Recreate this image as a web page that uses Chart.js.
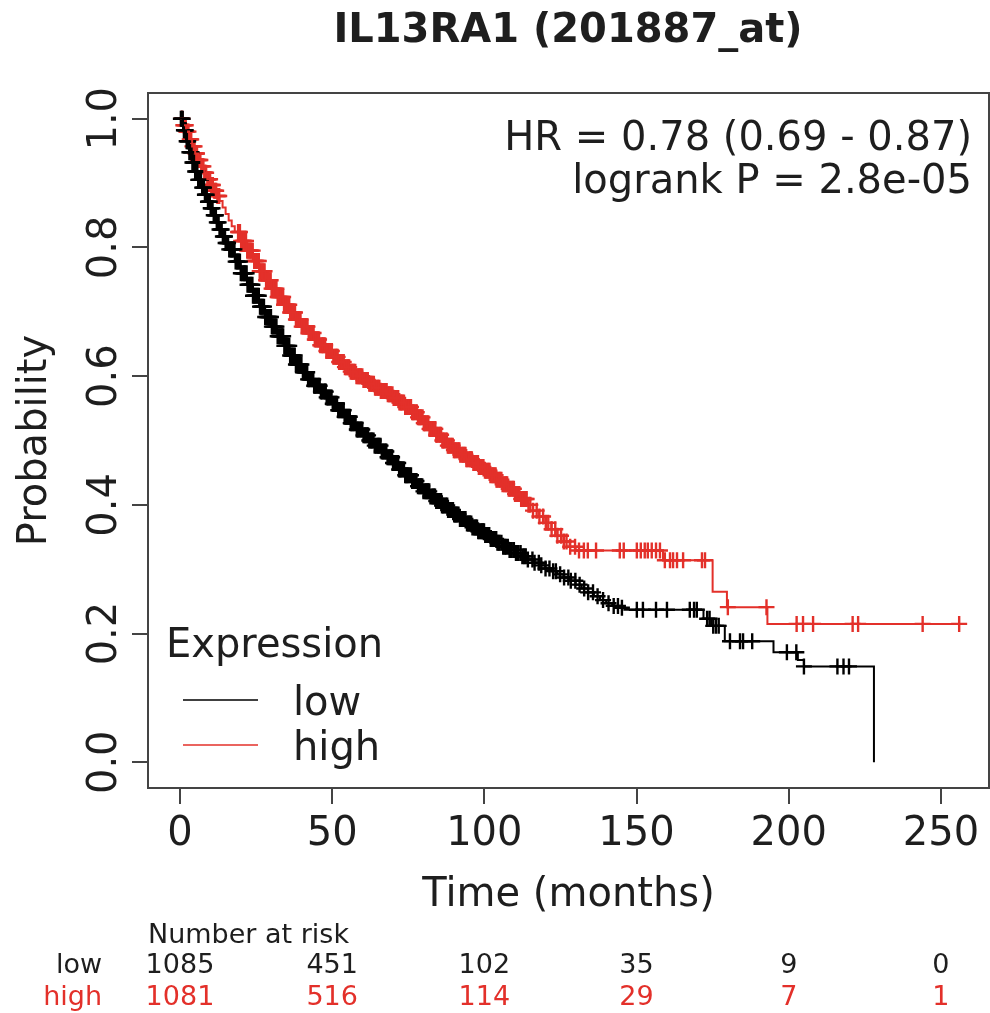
<!DOCTYPE html>
<html>
<head>
<meta charset="utf-8">
<script src="https://cdn.jsdelivr.net/npm/chart.js@4"></script>
<style>
html, body { margin: 0; padding: 0; background: #fff; }
</style>
</head>
<body>
<canvas id="km" width="990" height="1013"></canvas>
<script>
// Kaplan-Meier curve, low expression (time in months, survival probability)
const lowTimes = [0, 1, 2, 3, 4, 5, 6, 7, 8, 9, 10, 11, 12, 13, 14, 15, 16, 18, 20, 22, 24, 26, 28, 30, 32, 34, 36, 38, 40, 42, 44, 46, 48, 50, 52, 54, 56, 58, 60, 62, 64, 66, 68, 70, 72, 74, 76, 78, 80, 82, 84, 86, 88, 90, 92, 94, 96, 98, 100, 102, 104, 106, 108, 110, 112, 114, 116, 118, 120, 122, 124, 126, 128, 130, 132, 134, 136, 138, 140, 142, 144, 146, 172, 174.5, 179, 195, 203, 205, 228];
const lowSurv = [1.000, 0.982, 0.965, 0.948, 0.932, 0.918, 0.905, 0.893, 0.882, 0.871, 0.861, 0.850, 0.839, 0.828, 0.817, 0.807, 0.797, 0.778, 0.760, 0.742, 0.725, 0.708, 0.692, 0.677, 0.662, 0.647, 0.632, 0.618, 0.606, 0.595, 0.585, 0.576, 0.567, 0.557, 0.547, 0.537, 0.527, 0.517, 0.508, 0.500, 0.492, 0.483, 0.474, 0.465, 0.455, 0.446, 0.437, 0.429, 0.421, 0.413, 0.406, 0.399, 0.392, 0.385, 0.378, 0.371, 0.365, 0.359, 0.353, 0.347, 0.341, 0.335, 0.330, 0.325, 0.320, 0.315, 0.310, 0.306, 0.301, 0.297, 0.292, 0.287, 0.282, 0.276, 0.270, 0.264, 0.258, 0.252, 0.247, 0.243, 0.240, 0.237, 0.223, 0.212, 0.188, 0.171, 0.159, 0.149, 0.000];
const lowCensor = [0.3, 0.9, 1.6, 2.2, 2.7, 3.5, 4.1, 4.6, 5.4, 6.0, 6.5, 7.3, 7.9, 8.4, 9.2, 9.8, 10.3, 11.1, 11.8, 12.4, 13.0, 13.7, 14.5, 15.0, 15.8, 16.6, 17.1, 17.9, 18.7, 19.3, 20.0, 20.9, 21.5, 22.2, 23.0, 23.8, 24.3, 25.1, 25.9, 26.6, 27.2, 28.0, 28.9, 29.5, 30.2, 31.0, 31.7, 32.5, 33.3, 33.9, 34.7, 35.6, 36.2, 36.9, 37.7, 38.5, 39.1, 39.9, 40.8, 41.4, 42.1, 42.9, 43.8, 44.4, 45.2, 45.9, 46.7, 47.6, 48.2, 48.9, 49.8, 50.5, 51.2, 52.0, 52.8, 53.5, 54.1, 55.0, 55.8, 56.4, 57.2, 58.1, 58.7, 59.5, 60.3, 61.0, 61.8, 62.6, 63.2, 64.0, 64.9, 65.5, 66.3, 67.1, 67.8, 68.6, 69.4, 70.0, 70.9, 71.7, 72.3, 73.1, 74.0, 74.6, 75.4, 76.3, 76.9, 77.7, 78.6, 79.2, 80.0, 80.9, 81.5, 82.3, 83.2, 83.8, 84.6, 85.5, 86.1, 86.9, 87.8, 88.4, 89.2, 90.1, 90.7, 91.5, 92.4, 93.0, 93.8, 94.7, 95.3, 96.1, 97.0, 97.6, 98.4, 99.3, 99.9, 100.7, 101.6, 102.5, 103.4, 104.3, 105.0, 106.2, 107.1, 108.3, 109.0, 110.4, 111.2, 112.5, 113.6, 114.3, 115.8, 116.5, 117.9, 118.7, 120.1, 121.4, 122.6, 123.5, 124.9, 126.2, 127.6, 128.4, 129.9, 131.3, 132.8, 134.1, 135.7, 137.2, 139.0, 140.8, 142.5, 143.9, 145.2, 150.1, 152.1, 156.4, 160.0, 167.5, 168.9, 169.8, 173.2, 174.0, 175.2, 176.1, 177.0, 180.7, 184.0, 185.0, 188.0, 199.4, 202.5, 205.0, 216.0, 218.0, 219.8,
  0.6, 1.3, 1.9, 2.5, 3.1, 3.8, 4.4, 5.0, 5.7, 6.3, 6.9, 7.6, 8.2, 8.8, 9.5, 10.1, 10.7, 11.5, 12.1, 12.7, 13.4, 14.1, 14.8, 15.4, 16.2, 16.9, 17.5, 18.3, 19.0, 19.7, 20.5, 21.2, 21.9, 22.6, 23.4, 24.0, 24.7, 25.5, 26.3, 26.9, 27.6, 28.5, 29.2, 29.9, 30.6, 31.4, 32.1, 32.9, 33.6, 34.3, 35.2, 35.9, 36.6, 37.3, 38.1, 38.8, 39.5, 40.4, 41.1, 41.8, 42.5, 43.4, 44.1, 44.8, 45.6, 46.3, 47.2, 47.9, 48.6, 49.4, 50.2, 50.9, 51.6, 52.4, 53.2, 53.8, 54.6, 55.4, 56.1, 56.8, 57.7, 58.4, 59.1, 59.9, 60.7, 61.4, 62.2, 62.9, 63.6, 64.5, 65.2, 65.9, 66.7, 67.5, 68.2, 69.0, 69.7, 70.5, 71.3, 72.0, 72.7, 73.6, 74.3, 75.0, 75.9, 76.6, 77.3, 78.2, 78.9, 79.6, 80.5, 81.2, 81.9, 82.8, 83.5, 84.2, 85.1, 85.8, 86.5, 87.4, 88.1, 88.8, 89.7, 90.4, 91.1, 92.0, 92.7, 93.4, 94.3, 95.0, 95.7, 96.6, 97.3, 98.0, 98.9, 99.6, 100.3, 101.2, 102.1, 103.0, 103.9, 104.7, 105.6, 106.7, 107.7, 108.7, 109.7, 110.8, 111.9, 113.1];

// Kaplan-Meier curve, high expression
const highTimes = [0, 1, 2, 3, 4, 5, 6, 7, 8, 9, 10, 11, 12, 13, 14, 15, 16, 17, 18, 20, 22, 24, 26, 28, 30, 32, 34, 36, 38, 40, 42, 44, 46, 48, 50, 52, 54, 56, 58, 60, 62, 64, 66, 68, 70, 72, 74, 76, 78, 80, 82, 84, 86, 88, 90, 92, 94, 96, 98, 100, 102, 104, 106, 108, 110, 112, 114, 116, 118, 120, 122, 124, 126, 128, 130, 158.7, 175, 179.7, 193, 256];
const highSurv = [1.000, 0.990, 0.980, 0.968, 0.957, 0.946, 0.936, 0.926, 0.916, 0.906, 0.897, 0.888, 0.880, 0.872, 0.862, 0.852, 0.842, 0.833, 0.824, 0.810, 0.795, 0.779, 0.763, 0.749, 0.736, 0.723, 0.711, 0.699, 0.688, 0.677, 0.667, 0.657, 0.648, 0.639, 0.630, 0.622, 0.614, 0.607, 0.600, 0.594, 0.588, 0.582, 0.577, 0.572, 0.566, 0.559, 0.552, 0.544, 0.536, 0.527, 0.518, 0.509, 0.500, 0.492, 0.485, 0.478, 0.471, 0.465, 0.459, 0.453, 0.446, 0.439, 0.432, 0.425, 0.417, 0.409, 0.400, 0.391, 0.382, 0.372, 0.362, 0.352, 0.343, 0.335, 0.329, 0.314, 0.265, 0.241, 0.215, 0.215];
const highCensor = [0.5, 1.1, 1.9, 2.4, 3.2, 3.7, 4.5, 5.1, 5.6, 6.4, 7.0, 7.7, 8.2, 9.0, 9.5, 10.3, 10.8, 11.6, 12.3, 12.9, 19.1, 19.7, 20.6, 21.2, 22.1, 22.9, 23.5, 24.4, 25.0, 25.9, 26.5, 27.4, 28.3, 28.9, 29.8, 30.4, 31.3, 32.1, 32.7, 33.6, 34.2, 35.1, 35.9, 36.5, 37.4, 38.1, 38.9, 39.6, 40.5, 41.3, 41.9, 42.8, 43.4, 44.3, 45.1, 45.7, 46.6, 47.2, 48.1, 48.9, 49.5, 50.4, 51.2, 51.8, 52.7, 53.3, 54.2, 55.0, 55.6, 56.5, 57.1, 58.0, 58.8, 59.4, 60.3, 61.0, 61.7, 62.6, 63.2, 64.1, 64.9, 65.5, 66.4, 67.0, 67.9, 68.7, 69.3, 70.2, 70.8, 71.7, 72.5, 73.1, 74.0, 74.8, 75.4, 76.3, 76.9, 77.8, 78.6, 79.2, 80.1, 80.7, 81.6, 82.4, 83.0, 83.9, 84.5, 85.4, 86.2, 86.8, 87.7, 88.3, 89.2, 90.0, 90.6, 91.5, 92.1, 93.0, 93.8, 94.4, 95.3, 95.9, 96.8, 97.6, 98.2, 99.1, 99.7, 100.6, 101.4, 102.0, 102.9, 103.7, 104.3, 105.2, 106.0, 106.9, 107.5, 108.4, 109.3, 110.1, 111.0, 112.1, 113.0, 113.9, 115.1, 116.0, 117.2, 118.1, 119.3, 120.2, 121.0, 122.1, 123.3, 124.0, 125.2, 126.1, 127.0, 128.2, 129.8, 131.1, 132.7, 134.0, 136.7, 144.5, 145.8, 150.1, 151.4, 152.7, 153.7, 155.0, 156.4, 157.7, 159.3, 161.0, 162.0, 163.3, 165.3, 171.5, 172.5, 180.0, 192.7, 202.6, 204.7, 208.0, 221.0, 222.8, 244.0, 256.0,
  0.8, 1.5, 2.1, 2.8, 3.5, 4.1, 4.8, 5.4, 6.0, 6.7, 7.4, 8.0, 8.6, 9.3, 9.9, 10.6, 11.2, 11.9, 12.6, 19.4, 20.1, 20.9, 21.7, 22.5, 23.2, 23.9, 24.7, 25.5, 26.2, 27.0, 27.8, 28.6, 29.3, 30.1, 30.8, 31.7, 32.4, 33.1, 33.9, 34.7, 35.5, 36.2, 36.9, 37.8, 38.5, 39.2, 40.0, 40.9, 41.6, 42.3, 43.1, 43.9, 44.7, 45.4, 46.1, 46.9, 47.7, 48.5, 49.2, 49.9, 50.8, 51.5, 52.3, 53.0, 53.8, 54.6, 55.3, 56.1, 56.8, 57.6, 58.4, 59.1, 59.9, 60.6, 61.4, 62.2, 62.9, 63.7, 64.5, 65.2, 66.0, 66.7, 67.5, 68.3, 69.0, 69.8, 70.5, 71.3, 72.1, 72.8, 73.6, 74.4, 75.1, 75.9, 76.6, 77.4, 78.2, 78.9, 79.7, 80.4, 81.2, 82.0, 82.7, 83.5, 84.2, 85.0, 85.8, 86.5, 87.3, 88.0, 88.8, 89.6, 90.3, 91.1, 91.8, 92.6, 93.4, 94.1, 94.9, 95.6, 96.4, 97.2, 97.9, 98.7, 99.4, 100.2, 101.0, 101.7, 102.5, 103.3, 104.0, 104.8, 105.6, 106.5, 107.2, 108.0, 108.9, 109.7, 110.6, 111.5, 112.5, 113.5, 114.5];

const xTicks = [0, 50, 100, 150, 200, 250];
const yTicks = [0, 0.2, 0.4, 0.6, 0.8, 1.0];
const groups = ['low', 'high'];
const riskLow = [1085, 451, 102, 35, 9, 0];
const riskHigh = [1081, 516, 114, 29, 7, 1];

const RED = '#e3302a';
const INK = '#1e1e1e';
const FONT = '"DejaVu Sans", sans-serif';

function curvePoints(times, surv) {
  return times.map((t, i) => ({ x: t, y: surv[i] }));
}

// censored marks sit on the curve at their time
function censorPoints(cens, times, surv) {
  return cens.map(c => {
    let s = surv[0];
    for (let i = 0; i < times.length; i++) {
      if (times[i] <= c) s = surv[i];
    }
    return { x: c, y: s };
  });
}

const decor = {
  id: 'decor',
  afterDraw(chart) {
    const { ctx, chartArea: a, scales: { x, y } } = chart;
    ctx.save();

    // plot box
    ctx.strokeStyle = '#444';
    ctx.lineWidth = 2;
    ctx.strokeRect(a.left, a.top, a.right - a.left, a.bottom - a.top);

    ctx.fillStyle = INK;
    ctx.textBaseline = 'alphabetic';

    // title
    ctx.font = 'bold 40px ' + FONT;
    ctx.textAlign = 'center';
    ctx.fillText('IL13RA1 (201887_at)', 568, 42);

    // tick labels
    ctx.font = '40px ' + FONT;
    xTicks.forEach(v => {
      ctx.fillText(String(v), x.getPixelForValue(v), 845);
    });
    yTicks.forEach(v => {
      ctx.save();
      ctx.translate(116, y.getPixelForValue(v));
      ctx.rotate(-Math.PI / 2);
      ctx.fillText(v.toFixed(1), 0, 0);
      ctx.restore();
    });

    // axis titles
    ctx.save();
    ctx.translate(46, (a.top + a.bottom) / 2);
    ctx.rotate(-Math.PI / 2);
    ctx.fillText('Probability', 0, 0);
    ctx.restore();
    ctx.fillText('Time (months)', (a.left + a.right) / 2, 906);

    // HR annotation
    ctx.textAlign = 'right';
    ctx.fillText('HR = 0.78 (0.69 - 0.87)', 972, 150);
    ctx.fillText('logrank P = 2.8e-05', 972, 193);

    // legend
    ctx.textAlign = 'left';
    ctx.fillText('Expression', 166, 657);
    ctx.fillText(groups[0], 293, 715);
    ctx.fillText(groups[1], 293, 760);
    ctx.lineWidth = 1.5;
    ctx.strokeStyle = '#000';
    ctx.beginPath(); ctx.moveTo(183, 700); ctx.lineTo(258, 700); ctx.stroke();
    ctx.strokeStyle = RED;
    ctx.beginPath(); ctx.moveTo(183, 745); ctx.lineTo(258, 745); ctx.stroke();

    // number at risk table
    ctx.font = '27px ' + FONT;
    ctx.fillText('Number at risk', 148, 943);
    ctx.textAlign = 'right';
    ctx.fillText(groups[0], 102, 973);
    ctx.fillStyle = RED;
    ctx.fillText(groups[1], 102, 1005);
    ctx.textAlign = 'center';
    xTicks.forEach((t, i) => {
      const px = x.getPixelForValue(t);
      ctx.fillStyle = INK;
      ctx.fillText(String(riskLow[i]), px, 973);
      ctx.fillStyle = RED;
      ctx.fillText(String(riskHigh[i]), px, 1005);
    });

    ctx.restore();
  }
};

const axisGrid = { drawOnChartArea: false, drawTicks: true, tickLength: 16, color: '#444', lineWidth: 2 };

const ctx = document.getElementById('km').getContext('2d');
new Chart(ctx, {
  type: 'line',
  data: {
    datasets: [
      { label: 'low', data: curvePoints(lowTimes, lowSurv), borderColor: '#000', borderWidth: 2, stepped: true, pointRadius: 0, fill: false },
      { label: 'high', data: curvePoints(highTimes, highSurv), borderColor: RED, borderWidth: 2, stepped: true, pointRadius: 0, fill: false },
      { type: 'scatter', label: 'low censored', data: censorPoints(lowCensor, lowTimes, lowSurv), pointStyle: 'cross', pointRadius: 8, borderColor: '#000', borderWidth: 2.4, showLine: false },
      { type: 'scatter', label: 'high censored', data: censorPoints(highCensor, highTimes, highSurv), pointStyle: 'cross', pointRadius: 8, borderColor: RED, borderWidth: 2.4, showLine: false }
    ]
  },
  options: {
    responsive: false,
    animation: false,
    devicePixelRatio: 1,
    layout: { autoPadding: false, padding: { top: 93, right: 1, left: 0, bottom: 0 } },
    plugins: { legend: { display: false }, tooltip: { enabled: false } },
    scales: {
      x: {
        type: 'linear',
        min: -10.5,
        max: 265.8,
        afterBuildTicks: s => { s.ticks = xTicks.map(v => ({ value: v })); },
        afterFit: s => { s.height = 225; },
        grid: axisGrid,
        border: { display: false },
        ticks: { display: false }
      },
      y: {
        type: 'linear',
        min: -0.04,
        max: 1.04,
        afterBuildTicks: s => { s.ticks = yTicks.map(v => ({ value: v })); },
        afterFit: s => { s.width = 148; },
        grid: axisGrid,
        border: { display: false },
        ticks: { display: false }
      }
    }
  },
  plugins: [decor]
});
</script>
</body>
</html>
